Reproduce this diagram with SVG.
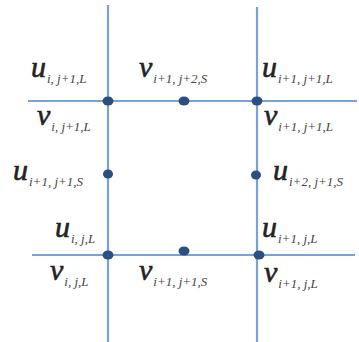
<svg xmlns="http://www.w3.org/2000/svg" width="359" height="342" viewBox="0 0 359 342">
<style>
.ln{stroke:#79a2d6;stroke-width:2.2;fill:none}
.dot{fill:#2c4f80}
.m{font-family:"Liberation Serif","Times New Roman",serif;font-style:italic;font-size:30px;fill:#222;stroke:#222;stroke-width:0.6}
.s{font-size:13px;fill:#444;stroke:none}
</style>
<rect width="359" height="342" fill="#fff"/>
<g id="connectors">
<line class="ln" x1="108" y1="5" x2="108" y2="342"/>
<line class="ln" x1="257" y1="7" x2="257" y2="342"/>
<line class="ln" x1="28" y1="101" x2="357" y2="101"/>
<line class="ln" x1="32" y1="255" x2="355" y2="255"/>
</g>
<g id="n1"><ellipse class="dot" cx="108" cy="101" rx="5.5" ry="4.5"/><text class="m" x="31" y="77">u<tspan class="s" dx="1" dy="6">i, j+1,L</tspan></text></g>
<g id="n2"><ellipse class="dot" cx="184" cy="101" rx="5.5" ry="4.5"/><text class="m" x="139" y="77">v<tspan class="s" dx="1" dy="6">i+1, j+2,S</tspan></text></g>
<g id="n3"><ellipse class="dot" cx="257" cy="101" rx="5.5" ry="4.5"/><text class="m" x="262" y="77">u<tspan class="s" dx="1" dy="6">i+1, j+1,L</tspan></text></g>
<g id="n4"><text class="m" x="37" y="125">v<tspan class="s" dx="1" dy="6">i, j+1,L</tspan></text></g>
<g id="n5"><text class="m" x="264" y="125">v<tspan class="s" dx="1" dy="6">i+1, j+1,L</tspan></text></g>
<g id="n6"><ellipse class="dot" cx="108" cy="174" rx="5" ry="4.5"/><text class="m" x="13" y="180">u<tspan class="s" dx="1" dy="6">i+1, j+1,S</tspan></text></g>
<g id="n7"><ellipse class="dot" cx="256" cy="175" rx="5" ry="4.5"/><text class="m" x="273" y="180">u<tspan class="s" dx="1" dy="6">i+2, j+1,S</tspan></text></g>
<g id="n8"><ellipse class="dot" cx="108" cy="255" rx="5.5" ry="4.5"/><text class="m" x="55" y="237">u<tspan class="s" dx="1" dy="6">i, j,L</tspan></text></g>
<g id="n9"><ellipse class="dot" cx="184" cy="251" rx="5.5" ry="4.5"/><text class="m" x="139" y="280">v<tspan class="s" dx="1" dy="6">i+1, j+1,S</tspan></text></g>
<g id="n10"><ellipse class="dot" cx="259" cy="255" rx="5.5" ry="4.5"/><text class="m" x="262" y="237">u<tspan class="s" dx="1" dy="6">i+1, j,L</tspan></text></g>
<g id="n11"><text class="m" x="50" y="280">v<tspan class="s" dx="1" dy="6">i, j,L</tspan></text></g>
<g id="n12"><text class="m" x="264" y="282">v<tspan class="s" dx="1" dy="6">i+1, j,L</tspan></text></g>
</svg>
